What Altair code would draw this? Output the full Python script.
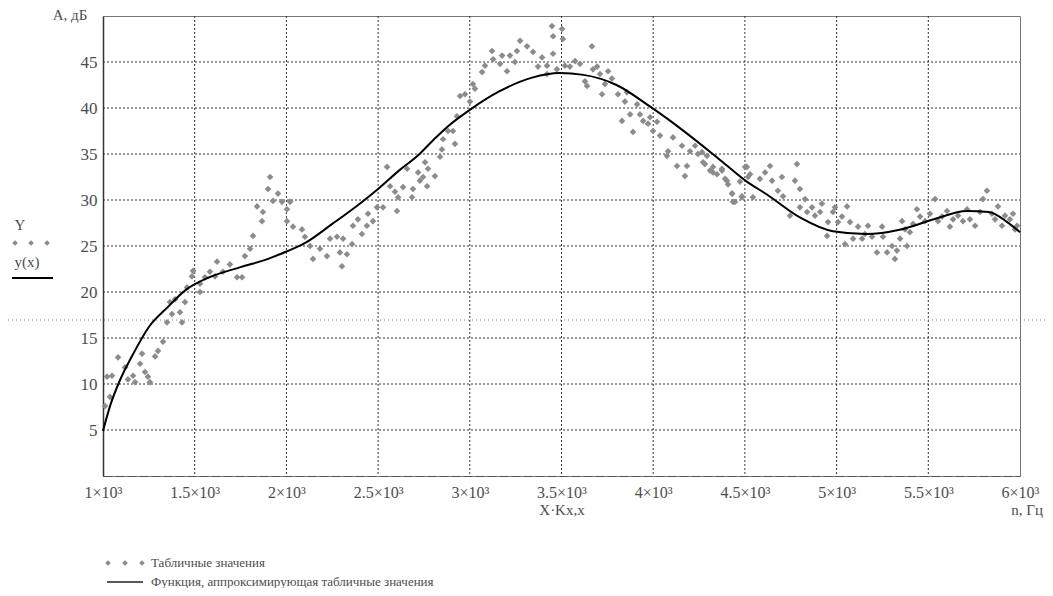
import altair as alt
import pandas as pd

scatter_x = [1011, 1038, 1022, 1049, 1082, 1120, 1136, 1164, 1175, 1202, 1213, 1229, 1256, 1245,
             1284, 1300, 1327, 1349, 1376, 1431, 1420, 1365, 1393, 1447, 1458, 1485, 1491, 1529,
             1529, 1556, 1583, 1622, 1611, 1654, 1692, 1731, 1758, 1774, 1802, 1818, 1840, 1872,
             1867, 1900, 1911, 1927, 1954, 1976, 2003, 2020, 2003, 2036, 2085, 2101, 2129, 2145,
             2183, 2221, 2238, 2276, 2292, 2309, 2303, 2330, 2358, 2363, 2390, 2412, 2439, 2445,
             2472, 2494, 2527, 2549, 2565, 2592, 2603, 2609, 2636, 2658, 2685, 2690, 2718, 2728,
             2756, 2745, 2772, 2767, 2810, 2838, 2848, 2854, 2881, 2908, 2919, 2930, 2947, 2974,
             3001, 3017, 3028, 3067, 3083, 3121, 3127, 3165, 3176, 3203, 3219, 3246, 3257, 3274,
             3312, 3345, 3372, 3394, 3421, 3421, 3448, 3454, 3454, 3475, 3503, 3508, 3519, 3546,
             3574, 3601, 3628, 3639, 3666, 3672, 3694, 3710, 3721, 3737, 3754, 3775, 3808, 3846,
             3857, 3830, 3874, 3890, 3912, 3928, 3945, 3972, 3983, 3999, 4021, 4037, 4075, 4081,
             4108, 4130, 4157, 4173, 4184, 4201, 4228, 4244, 4272, 4293, 4326, 4348, 4375, 4392,
             4408, 4430, 4446, 4484, 4501, 4517, 4266, 4282, 4310, 4326, 4375, 4402, 4430, 4435,
             4473, 4484, 4511, 4528, 4544, 4582, 4610, 4637, 4648, 4680, 4702, 4708, 4746, 4773,
             4784, 4800, 4800, 4828, 4839, 4866, 4882, 4920, 4910, 4948, 4953, 4980, 4991, 5008,
             5029, 5046, 5057, 5073, 5090, 5117, 5139, 5155, 5171, 5193, 5220, 5248, 5253, 5275,
             5302, 5318, 5329, 5346, 5357, 5373, 5384, 5400, 5417, 5438, 5455, 5482, 5509, 5537,
             5553, 5575, 5602, 5618, 5635, 5662, 5689, 5711, 5727, 5755, 5782, 5798, 5820, 5847,
             5864, 5880, 5902, 5918, 5945, 5962, 5984, 5973]
scatter_y = [7.6, 8.6, 10.8, 10.9, 12.9, 11.8, 10.5, 10.9, 10.2, 12.2, 13.3, 11.3, 10.2, 10.8,
             13.0, 13.6, 14.6, 16.7, 17.6, 16.7, 17.8, 18.9, 19.2, 18.9, 20.5, 21.7, 22.3, 20.0,
             20.9, 21.6, 22.2, 23.3, 21.7, 22.2, 23.0, 21.6, 21.6, 23.9, 24.7, 26.1, 29.3, 28.7,
             27.7, 31.2, 32.5, 29.9, 30.7, 29.8, 29.0, 29.8, 27.7, 27.1, 26.8, 26.0, 25.0, 23.6,
             24.7, 23.9, 25.8, 26.0, 24.3, 25.8, 22.8, 24.1, 25.2, 27.2, 27.9, 26.3, 27.2, 28.5,
             27.7, 29.2, 29.2, 33.6, 31.5, 30.9, 28.8, 30.3, 31.4, 33.4, 30.3, 31.2, 33.0, 32.1,
             34.1, 32.5, 33.4, 31.5, 32.6, 34.7, 35.5, 36.6, 37.5, 37.5, 36.1, 39.1, 41.3, 41.5,
             40.7, 42.6, 42.1, 43.9, 44.6, 46.2, 45.3, 44.8, 45.7, 44.0, 45.7, 45.0, 46.2, 47.3,
             46.7, 46.1, 44.5, 45.5, 44.6, 43.7, 48.9, 47.8, 45.9, 44.2, 48.6, 47.5, 44.6, 44.5,
             45.1, 44.8, 42.9, 42.4, 46.7, 44.2, 44.5, 43.7, 41.5, 42.6, 44.0, 43.2, 41.5, 40.7,
             41.7, 38.6, 39.3, 37.4, 40.4, 39.3, 38.6, 38.3, 39.0, 37.5, 38.5, 37.0, 34.8, 35.3,
             36.8, 33.7, 35.9, 32.6, 33.7, 35.3, 35.9, 35.0, 34.1, 34.8, 33.6, 32.8, 33.2, 32.3,
             31.7, 30.7, 29.8, 30.4, 33.6, 32.5, 35.2, 33.9, 33.2, 33.0, 33.4, 32.1, 30.7, 29.8,
             32.0, 30.3, 33.6, 32.8, 30.3, 32.3, 33.0, 33.7, 32.1, 31.0, 32.5, 30.4, 28.3, 32.1,
             33.9, 31.2, 29.2, 30.1, 28.7, 29.2, 28.3, 29.6, 28.7, 26.1, 27.6, 28.7, 29.2, 27.6,
             28.2, 25.2, 29.3, 27.6, 25.8, 27.1, 25.8, 26.3, 27.2, 26.0, 24.3, 27.1, 26.0, 24.3,
             25.0, 23.6, 24.5, 25.8, 27.7, 26.8, 25.0, 26.5, 27.4, 29.0, 28.2, 27.7, 28.5, 30.1,
             27.7, 28.2, 28.8, 27.1, 27.9, 28.3, 27.7, 29.0, 27.9, 27.2, 28.7, 30.1, 31.0, 28.5,
             27.9, 29.3, 27.2, 28.3, 27.9, 28.5, 27.2, 26.8]

# ---- approximating function ----
fit_x = [1000, 1040, 1090, 1160, 1250, 1350, 1450, 1580, 1750, 1900, 2000, 2100, 2250, 2400,
         2500, 2620, 2720, 2800, 2880, 3000, 3160, 3340, 3490, 3620, 3800, 3980, 4160, 4350,
         4510, 4620, 4800, 4980, 5160, 5350, 5530, 5710, 5830, 5930, 6000]
fit_y = [4.9, 7.7, 10.3, 13.1, 16.2, 18.3, 20.2, 21.6, 22.7, 23.6, 24.4, 25.3, 27.4, 29.6,
         31.2, 33.3, 34.9, 36.5, 38.0, 39.8, 41.8, 43.3, 43.8, 43.6, 42.5, 40.2, 37.6, 34.6,
         32.0, 30.6, 28.1, 26.6, 26.3, 26.8, 27.9, 28.8, 28.7, 27.6, 26.5]

x_ticks = [1000, 1500, 2000, 2500, 3000, 3500, 4000, 4500, 5000, 5500, 6000]
x_tick_labels = ["1×10³", "1.5×10³", "2×10³", "2.5×10³", "3×10³", "3.5×10³",
                 "4×10³", "4.5×10³", "5×10³", "5.5×10³", "6×10³"]
y_ticks = [5, 10, 15, 20, 25, 30, 35, 40, 45]

FONT = "Liberation Serif"
TXT = "#4d4d4d"
PT = "#8c8c8c"

pts = pd.DataFrame({"x": scatter_x, "y": scatter_y})
fit = pd.DataFrame({"x": fit_x, "y": fit_y})
xgrid_df = pd.DataFrame({"x": x_ticks[1:-1]})
ygrid_df = pd.DataFrame({"y": y_ticks})

xs = alt.Scale(domain=[1000, 6000], nice=False, zero=False)
ys = alt.Scale(domain=[0, 50], nice=False, zero=False)

label_expr = ("[" + ",".join("'" + s + "'" for s in x_tick_labels) + "][indexof(["
              + ",".join(str(v) for v in x_ticks) + "], datum.value)]")

xaxis = alt.Axis(values=x_ticks, labelExpr=label_expr, title=None, grid=False, ticks=False,
                 labelFont=FONT, labelFontSize=16, labelColor=TXT, labelPadding=8,
                 domainColor="#555", domainDash=[9, 3], labelFlush=False, labelOverlap=False)
yaxis = alt.Axis(values=y_ticks, title=None, grid=False, ticks=False, labelFont=FONT,
                 labelFontSize=17, labelColor=TXT, labelPadding=6, domainColor="#333",
                 domainWidth=1.5)

vgrid = alt.Chart(xgrid_df).mark_rule(color="#333", strokeWidth=1, strokeDash=[2, 2]).encode(
    x=alt.X("x:Q", scale=xs, axis=xaxis), y=alt.value(0), y2=alt.value(460))
hgrid = alt.Chart(ygrid_df).mark_rule(color="#333", strokeWidth=1, strokeDash=[2, 2]).encode(
    y=alt.Y("y:Q", scale=ys, axis=yaxis), x=alt.value(0), x2=alt.value(917))
points = alt.Chart(pts).mark_point(shape="diamond", filled=True, size=44, color=PT,
                                   opacity=1).encode(
    x=alt.X("x:Q", scale=xs, axis=xaxis),
    y=alt.Y("y:Q", scale=ys, axis=yaxis),
)
line = alt.Chart(fit).mark_line(color="black", strokeWidth=2, interpolate="monotone").encode(
    x=alt.X("x:Q", scale=xs), y=alt.Y("y:Q", scale=ys)
)

anchor = pd.DataFrame({"a": [0]})


def txt(text, x, y, size=15, align="center", color=TXT, baseline="middle"):
    return alt.Chart(anchor).mark_text(text=text, font=FONT, fontSize=size, align=align,
                                       baseline=baseline, color=color).encode(
        x=alt.value(x), y=alt.value(y))


def dot(x, y):
    return alt.Chart(anchor).mark_point(shape="diamond", filled=True, size=32, color=PT,
                                        opacity=1).encode(x=alt.value(x), y=alt.value(y))


def hrule(x1, x2, y, color="black", width=2, dash=None):
    kw = dict(color=color, strokeWidth=width)
    if dash:
        kw["strokeDash"] = dash
    return alt.Chart(anchor).mark_rule(**kw).encode(x=alt.value(x1), x2=alt.value(x2),
                                                    y=alt.value(y))


layers = [
    vgrid, hgrid,
    hrule(-95, 942, 304, color="#777", width=1, dash=[1, 3]),
    points,
    line,
    txt("A, дБ", -33, -8, size=15, baseline="top"),
    txt("Y", -83, 209, size=15),
    dot(-88, 227), dot(-72, 227), dot(-56, 227),
    txt("y(x)", -76, 246, size=15),
    hrule(-91, -50, 262, color="black", width=2),
    txt("X·Kx,x", 459, 494, size=15),
    txt("n, Гц", 940, 494, size=15, align="right"),
    dot(5, 547), dot(22, 547), dot(39, 547),
    txt("Табличные значения", 48, 547, size=13, align="left"),
    hrule(4, 40, 566, color="#222", width=1.5),
    txt("Функция, аппроксимирующая табличные значения", 48, 566, size=13, align="left"),
]

chart = alt.layer(*layers).properties(
    width=917, height=460,
    padding={"left": 95, "top": 8, "right": 25, "bottom": 112},
    autosize=alt.AutoSizeParams(type="none"),
    background="white",
).configure_view(stroke="#777", strokeWidth=1)

chart.save("out.html", embed_options={"renderer": "svg", "actions": False})
